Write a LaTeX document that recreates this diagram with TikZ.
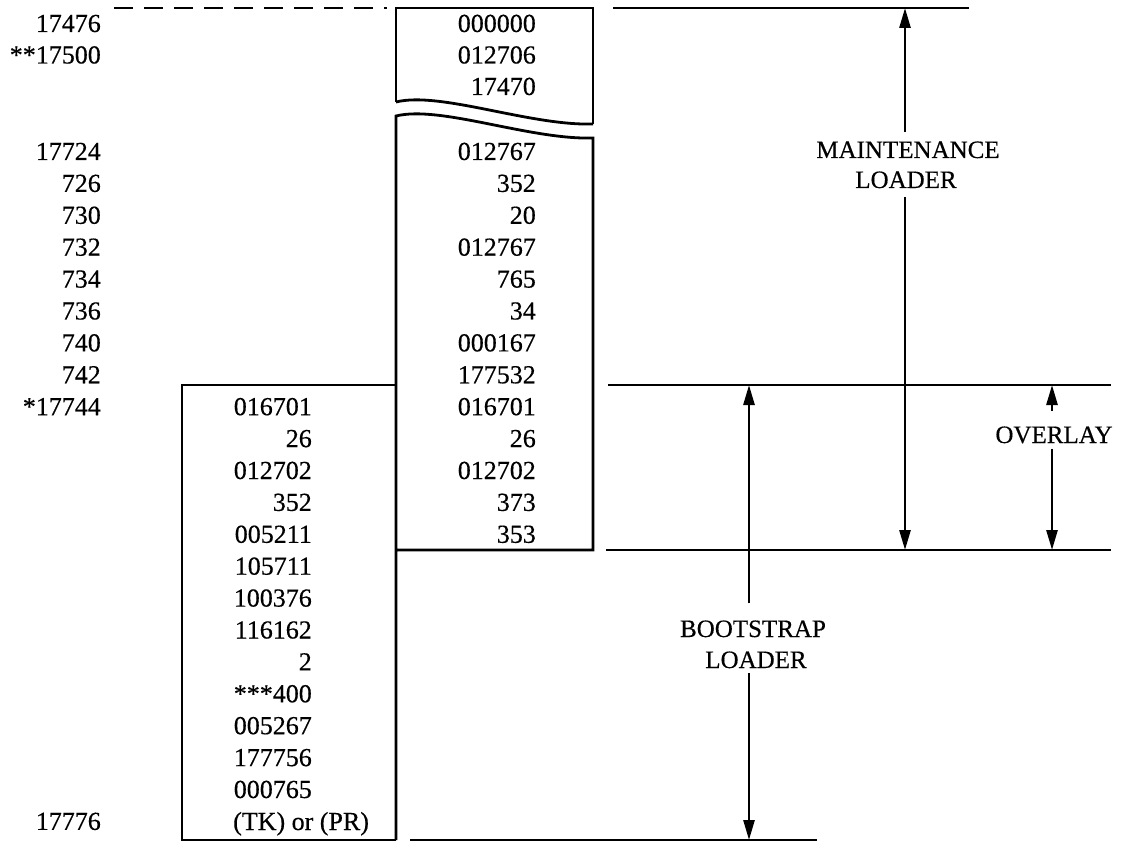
\documentclass[tikz,border=0pt]{standalone}
\usepackage{fontspec}
\setmainfont{Liberation Serif}[FakeBold=0.4]
\usetikzlibrary{arrows.meta}
\begin{document}
\begin{tikzpicture}[x=1pt,y=-1pt,
  num/.style={inner sep=0pt, anchor=base east, font=\fontsize{26}{30}\selectfont},
  numl/.style={inner sep=0pt, anchor=base west, font=\fontsize{26}{30}\selectfont},
  lab/.style={inner sep=0pt, anchor=base, font=\fontsize{25}{30}\selectfont},
  ln/.style={line width=2.8pt, line join=miter},
  dimarrow/.style={line width=2.6pt, -{Triangle[length=20pt,width=11pt]}},
]
\useasboundingbox (0,0) rectangle (1124,842);

% ---------- boxes ----------
% maintenance loader, upper piece
\draw[ln] (396,102) -- (396,8) -- (593,8) -- (593,124);
\draw[ln] (396,102) .. controls (440,91) and (530,126) .. (593,124);
% maintenance loader, lower piece
\draw[ln] (396,840) -- (396,116) .. controls (440,105) and (530,140) .. (593,138) -- (593,550) -- (396,550);
% bootstrap loader box
\draw[ln] (396,385) -- (182,385) -- (182,840) -- (396,840);

% ---------- boundary lines ----------
\coordinate (dl) at (114,8);   \coordinate (dr) at (387,8);
\coordinate (tl) at (613,8);   \coordinate (tr) at (969,8);
\coordinate (al) at (608,385); \coordinate (ar) at (1111,385);
\coordinate (bl) at (606,550); \coordinate (br) at (1111,550);
\coordinate (cl) at (410,840); \coordinate (cr) at (817,840);
\draw[ln, dash pattern=on 19pt off 11pt] (dl) -- (dr);
\draw[ln] (tl) -- (tr);
\draw[ln] (al) -- (ar);
\draw[ln] (bl) -- (br);
\draw[ln] (cl) -- (cr);

% ---------- addresses ----------
\node[num] (a0) at (101,32) {17476};
\node[num] (a1) at (101,63.5) {**17500};
\foreach \t/\j [count=\i from 2] in {17724/0,726/1,730/2,732/3,734/4,736/5,740/6,742/7,*17744/8,17776/21}
  \node[num] (a\i) at (101,{160+31.9*\j}) {\t};

% ---------- maintenance loader contents ----------
\node[num] (m0) at (536,32) {000000};
\node[num] (m1) at (536,63.5) {012706};
\node[num] (m2) at (536,95) {17470};
\foreach \t/\j [count=\i from 3] in {012767/0,352/1,20/2,012767/3,765/4,34/5,000167/6,177532/7,016701/8,26/9,012702/10,373/11,353/12}
  \node[num] (m\i) at (536,{160+31.9*\j}) {\t};

% ---------- bootstrap loader contents ----------
\foreach \t/\j [count=\i from 0] in {016701/8,26/9,012702/10,352/11,005211/12,105711/13,100376/14,116162/15,2/16,***400/17,005267/18,177756/19,000765/20}
  \node[num] (b\i) at (312,{160+31.9*\j}) {\t};
\node[numl] (b13) at (233,830) {(TK) or (PR)};

% ---------- labels ----------
\node[lab] (mt) at (908,158) {MAINTENANCE};
\node[lab] (mb) at (906,188) {LOADER};
\node[lab] (ov) at (1054,443) {OVERLAY};
\node[lab] (bt) at (753,637) {BOOTSTRAP};
\node[lab] (bb) at (756,668) {LOADER};

% ---------- dimension arrows ----------
\coordinate (ma1) at (905,8);   \coordinate (ma2) at (905,550);
\coordinate (ov1) at (1052,385); \coordinate (ov2) at (1052,550);
\coordinate (bs1) at (749,385);  \coordinate (bs2) at (749,840);
\draw[dimarrow] ([yshift=9pt]mt.north -| ma1) -- (ma1);
\draw[dimarrow] ([yshift=-9pt]mb.south -| ma2) -- (ma2);
\draw[dimarrow] ([yshift=15pt]ov.north -| ov1) -- (ov1);
\draw[dimarrow] ([yshift=-5pt]ov.south -| ov2) -- (ov2);
\draw[dimarrow] ([yshift=17pt]bt.north -| bs1) -- (bs1);
\draw[dimarrow] ([yshift=-5pt]bb.south -| bs2) -- (bs2);
\end{tikzpicture}
\end{document}
